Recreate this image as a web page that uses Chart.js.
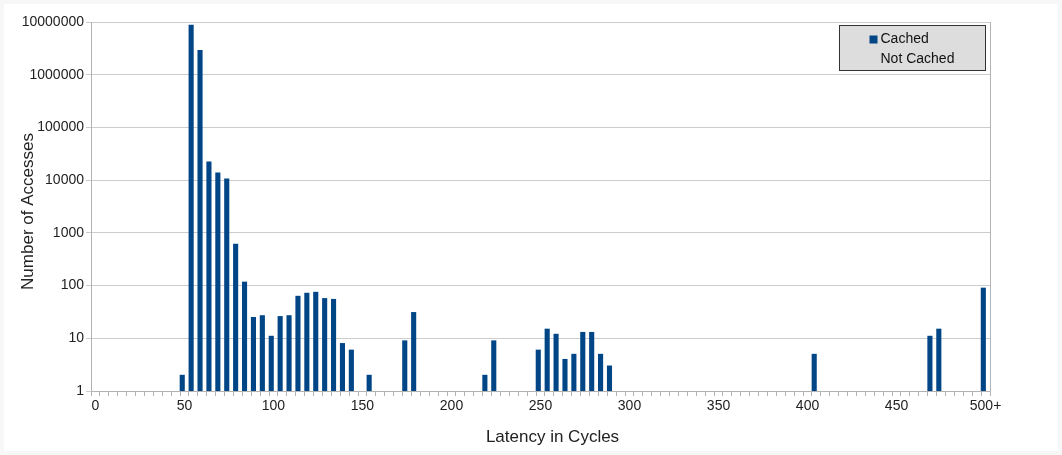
<!DOCTYPE html>
<html><head><meta charset="utf-8">
<script src="https://cdn.jsdelivr.net/npm/chart.js@4/dist/chart.umd.min.js"></script>
<style>html,body{margin:0;padding:0;background:#f7f7f7;overflow:hidden}</style>
</head><body><canvas id="c" width="1062" height="455"></canvas>
<script>
// Latency bins: 0,5,...,495 and "500+"
const binLabels = [];
for (let b = 0; b < 500; b += 5) binLabels.push(String(b));
binLabels.push('500+');

// Cached series (only non-empty bins listed)
const cachedBins = ['50','55','60','65','70','75','80','85','90','95','100','105','110','115','120','125','130','135','140','145','155','175','180','220','225','250','255','260','265','270','275','280','285','290','405','470','475','500+'];
const cachedCounts = [2,8700000,2900000,22300,13800,10600,615,117,25,27,11,26,27,63,72,75,57,55,8,6,2,9,31,2,9,6,15,12,4,5,13,13,5,3,5,11,15,90];

// Not Cached series (no visible bars)
const notCachedBins = [];
const notCachedCounts = [];

const yTickValues = [1,10,100,1000,10000,100000,1000000,10000000];
const xLabelEvery = 10;
const xTitle = 'Latency in Cycles';
const yTitle = 'Number of Accesses';
const FONT = '"Liberation Sans", Arial, sans-serif';

function toSeries(bins, counts) {
  return binLabels.map(l => { const i = bins.indexOf(l); return i >= 0 ? counts[i] : null; });
}

const bgPlugin = {
  id: 'bg',
  beforeDraw(chart) {
    const ctx = chart.ctx;
    ctx.save();
    ctx.fillStyle = '#f7f7f7';
    ctx.fillRect(0, 0, chart.width, chart.height);
    ctx.fillStyle = '#ffffff';
    ctx.fillRect(4, 4, chart.width - 8, chart.height - 8);
    ctx.restore();
  },
  afterDatasetsDraw(chart) {
    const ctx = chart.ctx, a = chart.chartArea;
    ctx.save();
    ctx.strokeStyle = '#b3b3b3';
    ctx.lineWidth = 1;
    ctx.beginPath();
    ctx.moveTo(Math.round(a.right) + 0.5, a.top);
    ctx.lineTo(Math.round(a.right) + 0.5, a.bottom);
    ctx.stroke();
    ctx.restore();
  }
};

const titlePlugin = {
  id: 'axisTitles',
  afterDraw(chart) {
    const ctx = chart.ctx, a = chart.chartArea;
    ctx.save();
    ctx.fillStyle = '#222';
    ctx.font = '17px ' + FONT;
    ctx.textAlign = 'center';
    ctx.textBaseline = 'middle';
    ctx.fillText(xTitle, (a.left + a.right) / 2 + 12, a.bottom + 46);
    ctx.translate(28, (a.top + a.bottom) / 2 + 5);
    ctx.rotate(-Math.PI / 2);
    ctx.fillText(yTitle, 0, 0);
    ctx.restore();
  }
};

const legendPlugin = {
  id: 'boxLegend',
  afterDraw(chart) {
    const ctx = chart.ctx, a = chart.chartArea;
    const w = 146, h = 45;
    const x = Math.round(a.right - 5 - w) + 0.5, y = Math.round(a.top + 3) + 0.5;
    ctx.save();
    ctx.fillStyle = '#dddddd';
    ctx.fillRect(x, y, w, h);
    ctx.strokeStyle = '#333333';
    ctx.lineWidth = 1;
    ctx.strokeRect(x, y, w, h);
    ctx.font = '14px ' + FONT;
    ctx.textBaseline = 'middle';
    chart.data.datasets.forEach((ds, i) => {
      const cy = y + 14 + i * 20;
      if (ds.backgroundColor && ds.backgroundColor !== 'transparent') {
        ctx.fillStyle = ds.backgroundColor;
        ctx.fillRect(x + 30, cy - 4, 8, 8);
      }
      ctx.fillStyle = '#111';
      ctx.fillText(ds.label, x + 41, cy);
    });
    ctx.restore();
  }
};

new Chart(document.getElementById('c'), {
  type: 'bar',
  data: {
    labels: binLabels,
    datasets: [
      { label: 'Cached', data: toSeries(cachedBins, cachedCounts), backgroundColor: '#004586', borderWidth: 0, categoryPercentage: 1, barPercentage: 1 },
      { label: 'Not Cached', data: toSeries(notCachedBins, notCachedCounts), backgroundColor: 'transparent', borderWidth: 0, categoryPercentage: 1, barPercentage: 1 }
    ]
  },
  options: {
    responsive: false,
    animation: false,
    layout: { padding: { top: 22, right: 72, left: 0, bottom: 0 } },
    plugins: { legend: { display: false }, tooltip: { enabled: false } },
    scales: {
      x: {
        type: 'category',
        offset: true,
        grid: { drawOnChartArea: false, offset: true, tickLength: 5, color: '#b3b3b3' },
        border: { color: '#b3b3b3' },
        ticks: {
          autoSkip: false, maxRotation: 0, minRotation: 0, padding: 2,
          color: '#222', font: { family: FONT, size: 14 },
          callback: (v, i) => (i % xLabelEvery === 0 ? binLabels[i] : '')
        },
        title: { display: false },
        afterFit: s => { s.height = 64; }
      },
      y: {
        type: 'logarithmic',
        min: 1, max: 10000000,
        afterBuildTicks: s => { s.ticks = yTickValues.map(v => ({ value: v, major: true })); },
        grid: { color: '#cccccc', tickLength: 5, lineWidth: 1 },
        border: { color: '#b3b3b3' },
        ticks: { color: '#222', padding: 2, font: { family: FONT, size: 14 },
          callback: v => String(v) },
        title: { display: false },
        afterFit: s => { s.width = 91; }
      }
    }
  },
  plugins: [bgPlugin, titlePlugin, legendPlugin]
});
</script>
</body></html>
